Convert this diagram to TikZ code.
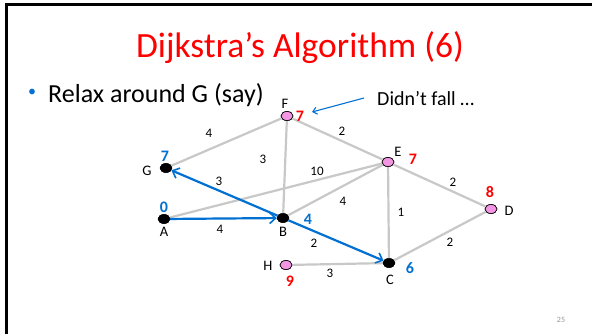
\documentclass[tikz,border=0pt]{standalone}
\usepackage{fontspec}
\setmainfont{Carlito}
\usetikzlibrary{arrows.meta,shapes.geometric}
\definecolor{ered}{RGB}{255,0,0}
\definecolor{eblue}{RGB}{0,112,210}
\definecolor{epink}{RGB}{242,150,228}
\definecolor{egray}{RGB}{200,200,200}
\definecolor{pnum}{RGB}{150,150,150}
\tikzset{
  vblack/.style={ellipse,draw=black,fill=black,minimum width=12pt,minimum height=9pt,inner sep=0pt},
  vpink/.style={ellipse,draw=black,line width=0.6pt,fill=epink,minimum width=12pt,minimum height=9pt,inner sep=0pt},
  vlab/.style={font=\fontsize{14.5}{14.5}\selectfont,inner sep=0pt},
  wlab/.style={font=\fontsize{13}{13}\selectfont,inner sep=0pt},
  rnum/.style={font=\fontsize{16}{16}\selectfont\bfseries,text=ered,inner sep=0pt},
  bnum/.style={font=\fontsize{16}{16}\selectfont\bfseries,text=eblue,inner sep=0pt},
  gedge/.style={draw=egray,line width=2.2pt},
  bedge/.style={draw=eblue,line width=2.2pt,-{Straight Barb[length=6pt,width=11pt,line width=1.6pt]}},
}
\begin{document}
\begin{tikzpicture}[x=1pt,y=-1pt]
\useasboundingbox (0,0) rectangle (592,333);
\fill[white] (0,0) rectangle (592,333);
\draw[line width=3pt] (6,345) -- (6,4) -- (600,4);
% title
\node[font=\fontsize{35.5}{35.5}\selectfont,text=ered,inner sep=0pt,anchor=base] (title) at (300,57) {Dijkstra’s Algorithm (6)};
\node[font=\fontsize{16}{16}\selectfont,text=eblue,inner sep=0pt] (bul) at (32,93) {•};
\node[font=\fontsize{26}{26}\selectfont,inner sep=0pt,anchor=base west] (relax) at (48,102) {Relax around G (say)};
\node[font=\fontsize{20}{20}\selectfont,inner sep=0pt,anchor=base west] (fall) at (377,105) {Didn’t fall …};
% vertices
\node[vpink] (F) at (287,116) {};
\node[vblack] (G) at (166,168) {};
\node[vblack] (A) at (164,219) {};
\node[vblack] (B) at (283,218) {};
\node[vpink] (E) at (388,162) {};
\node[vpink] (D) at (491,209) {};
\node[vblack] (C) at (389,263) {};
\node[vpink] (H) at (286,265) {};
% gray edges
\draw[gedge] (G) -- (F);
\draw[gedge] (F) -- (B);
\draw[gedge] (F) -- (E);
\draw[gedge] (A) -- (E);
\draw[gedge] (B) -- (E);
\draw[gedge] (E) -- (C);
\draw[gedge] (E) -- (D);
\draw[gedge] (D) -- (C);
\draw[gedge] (H) -- (C);
% blue edges
\draw[bedge] (A) -- (B);
\draw[bedge] (B) -- (G);
\draw[bedge] (B) -- (C);
% redraw vertices on top
\node[vpink] at (F) {};
\node[vblack] at (G) {};
\node[vblack] at (A) {};
\node[vblack] at (B) {};
\node[vpink] at (E) {};
\node[vpink] at (D) {};
\node[vblack] at (C) {};
\node[vpink] at (H) {};
% vertex labels
\node[vlab] (lF) at (285,104) {F};
\node[vlab] (lG) at (147,171) {G};
\node[vlab] (lA) at (164,232) {A};
\node[vlab] (lB) at (283,232) {B};
\node[vlab] (lE) at (398,152) {E};
\node[vlab] (lD) at (509,211) {D};
\node[vlab] (lC) at (390,280) {C};
\node[vlab] (lH) at (268,266) {H};
% distances
\node[rnum] (dF) at (300,116) {7};
\node[bnum] (dG) at (165,156) {7};
\node[bnum] (dA) at (164,207) {0};
\node[bnum] (dB) at (308,219) {4};
\node[rnum] (dE) at (413,159) {7};
\node[rnum] (dD) at (490,192) {8};
\node[bnum] (dC) at (410,268) {6};
\node[rnum] (dH) at (290,281) {9};
% weights
\node[wlab] (w1) at (209,133) {4};
\node[wlab] (w2) at (263,159) {3};
\node[wlab] (w3) at (342,131) {2};
\node[wlab] (w4) at (317,171) {10};
\node[wlab] (w5) at (343,201) {4};
\node[wlab] (w6) at (401,212) {1};
\node[wlab] (w7) at (453,182) {2};
\node[wlab] (w8) at (450,242) {2};
\node[wlab] (w9) at (330,273) {3};
\node[wlab] (w10) at (314,243) {2};
\node[wlab] (w11) at (220,229) {4};
\node[wlab] (w12) at (219,181) {3};
% annotation arrow
\coordinate (fallstart) at (364,98);
\draw[eblue,line width=1.1pt,-{Straight Barb[length=4pt,width=7pt]}] (fallstart) -- (312,112);
% page number
\node[font=\fontsize{8}{8}\selectfont,text=pnum,inner sep=0pt] (pg) at (561,320) {25};
\end{tikzpicture}
\end{document}
